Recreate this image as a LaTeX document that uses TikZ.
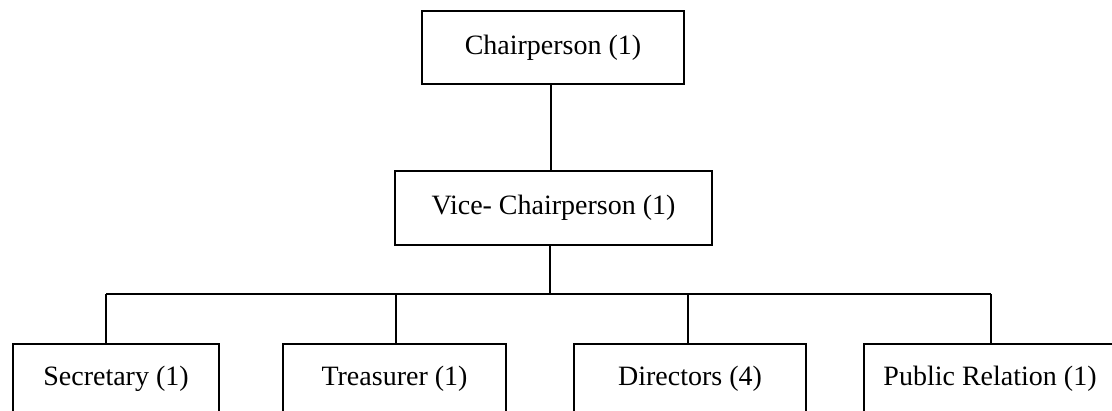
\documentclass[tikz,border=0pt]{standalone}
\usepackage{fontspec}
\setmainfont{Liberation Serif}
\begin{document}
\begin{tikzpicture}[x=1pt,y=-1pt,
  post/.style={draw=black, line width=1.6pt, rectangle, inner sep=0pt,
    font=\fontsize{28}{34}\selectfont},
  leaf/.style={post, minimum height=76pt, anchor=north},
  link/.style={draw=black, line width=2.2pt}]
  \useasboundingbox (0,0) rectangle (1112,411);
  \clip (0,0) rectangle (1112,411);

  % top of the hierarchy
  \node[post, minimum width=262pt, minimum height=73pt] (chair) at (553,47.5) {Chairperson (1)};
  \node[post, minimum width=317pt, minimum height=74pt] (vice) at (553.5,208) {Vice- Chairperson (1)};

  % members, all hanging from one bus line
  \node[leaf, minimum width=206pt] (sec) at (116,343) {\raisebox{12pt}{Secretary (1)}};
  \node[leaf, minimum width=223pt] (tre) at (394.5,343) {\raisebox{12pt}{Treasurer (1)}};
  \node[leaf, minimum width=232pt] (dir) at (690,343) {\raisebox{12pt}{Directors (4)}};
  \node[leaf, minimum width=252pt] (pr)  at (990,343) {\raisebox{12pt}{Public Relation (1)}};

  \coordinate (bus) at (550,294);
  \coordinate (busL) at (106,294);
  \coordinate (busR) at (991,294);

  \draw[link] (chair.south -| 551,0) -- (vice.north -| 551,0);
  \draw[link] (vice.south -| bus) -- (bus);
  \draw[link] (busL) -- (busR);
  \draw[link] (busL) -- (sec.north -| busL);
  \draw[link] (bus -| 396,0) -- (tre.north -| 396,0);
  \draw[link] (bus -| 688,0) -- (dir.north -| 688,0);
  \draw[link] (busR) -- (pr.north -| busR);
\end{tikzpicture}
\end{document}
